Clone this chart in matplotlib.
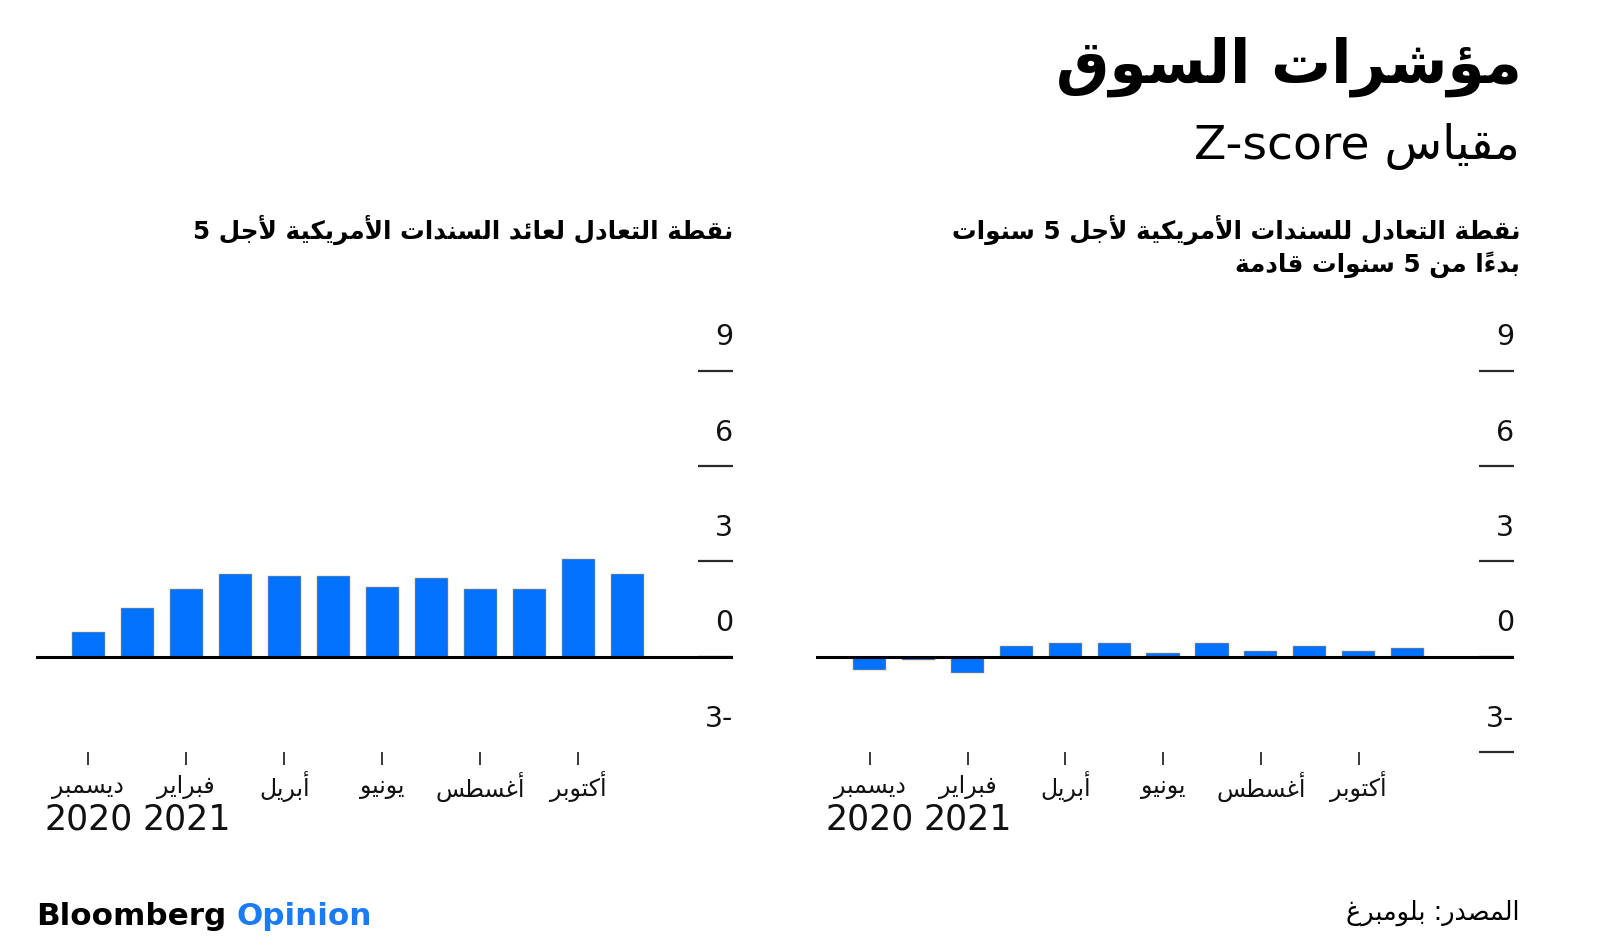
import numpy as np
import matplotlib
matplotlib.use("Agg")
import matplotlib.pyplot as plt

# ---------------- data ----------------
months = ["ديسمبر", "يناير", "فبراير", "مارس", "أبريل", "مايو",
          "يونيو", "يوليو", "أغسطس", "سبتمبر", "أكتوبر", "نوفمبر"]
years = ["2020", "2021"]
left_values = [0.79, 1.52, 2.12, 2.60, 2.54, 2.54, 2.20, 2.46, 2.12, 2.12, 3.06, 2.59]
right_values = [-0.42, -0.10, -0.52, 0.33, 0.42, 0.42, 0.12, 0.42, 0.18, 0.33, 0.18, 0.26]
ytick_values = [-3, 0, 3, 6, 9]
ytick_labels = ["3-", "0", "3", "6", "9"]

title = "مؤشرات السوق"
subtitle = "مقياس Z-score"
right_title = ["نقطة التعادل للسندات الأمريكية لأجل 5 سنوات", "بدءاً من 5 سنوات قادمة"]
left_title = ["نقطة التعادل لعائد السندات الأمريكية لأجل 5"]
source = "المصدر: بلومبرغ"

BLUE = "#0072ff"
EDGE = "#f0a03c"
DARK = "#2a2a2a"

# ---------------- Arabic shaping (presentation forms + simple bidi) ----------------
DUAL = {'ئ': 0xFE89, 'ب': 0xFE8F, 'ت': 0xFE95, 'ث': 0xFE99, 'ج': 0xFE9D, 'ح': 0xFEA1,
        'خ': 0xFEA5, 'س': 0xFEB1, 'ش': 0xFEB5, 'ص': 0xFEB9, 'ض': 0xFEBD, 'ط': 0xFEC1,
        'ظ': 0xFEC5, 'ع': 0xFEC9, 'غ': 0xFECD, 'ف': 0xFED1, 'ق': 0xFED5, 'ك': 0xFED9,
        'ل': 0xFEDD, 'م': 0xFEE1, 'ن': 0xFEE5, 'ه': 0xFEE9, 'ي': 0xFEF1}
RIGHT = {'آ': 0xFE81, 'أ': 0xFE83, 'ؤ': 0xFE85, 'إ': 0xFE87, 'ا': 0xFE8D, 'ة': 0xFE93,
         'د': 0xFEA9, 'ذ': 0xFEAB, 'ر': 0xFEAD, 'ز': 0xFEAF, 'و': 0xFEED, 'ى': 0xFEEF}
NONJOIN = {'ء': 0xFE80}
LAMALEF = {'آ': 0xFEF5, 'أ': 0xFEF7, 'إ': 0xFEF9, 'ا': 0xFEFB}


def is_mark(c):
    return '\u064B' <= c <= '\u065F' or c == '\u0670'


def shape(text):
    clusters = []
    for c in text:
        if is_mark(c) and clusters:
            clusters[-1][1].append(c)
        else:
            clusters.append([c, []])
    merged = []
    i = 0
    while i < len(clusters):
        c, m = clusters[i]
        if c == 'ل' and i + 1 < len(clusters) and clusters[i + 1][0] in LAMALEF and not m:
            merged.append(['LA' + clusters[i + 1][0], clusters[i + 1][1]])
            i += 2
        else:
            merged.append([c, m])
            i += 1

    def joins_next(c):
        return c in DUAL

    def joins_prev(c):
        return c in DUAL or c in RIGHT or c.startswith('LA')

    out = []
    for i, (c, m) in enumerate(merged):
        prev = merged[i - 1][0] if i > 0 else None
        nxt = merged[i + 1][0] if i + 1 < len(merged) else None
        jp = prev is not None and joins_next(prev) and joins_prev(c)
        jn = nxt is not None and joins_next(c) and joins_prev(nxt)
        if c.startswith('LA'):
            g = chr(LAMALEF[c[2]] + (1 if (prev is not None and joins_next(prev)) else 0))
        elif c in DUAL:
            g = chr(DUAL[c] + (3 if (jp and jn) else 2 if jn else 1 if jp else 0))
        elif c in RIGHT:
            g = chr(RIGHT[c] + (1 if jp else 0))
        elif c in NONJOIN:
            g = chr(NONJOIN[c])
        else:
            g = c
        out.append(g + ''.join(m))
    return out


def is_ltr(s):
    return s[0].isascii() and s[0].isalnum()


def ar(text):
    rev = shape(text)[::-1]
    out = []
    i = 0
    while i < len(rev):
        if is_ltr(rev[i]):
            j = i
            while j < len(rev) and (is_ltr(rev[j]) or (rev[j] in '-.,' and j + 1 < len(rev) and is_ltr(rev[j + 1]))):
                j += 1
            out.extend(rev[i:j][::-1])
            i = j
        else:
            out.append(rev[i])
            i += 1
    return ''.join(out)


# ---------------- figure ----------------
plt.rcParams['font.family'] = ['DejaVu Sans']
W, H = 1600, 949
fig = plt.figure(figsize=(W / 100, H / 100), dpi=100)

Y0_PX = 656.7       # pixel row of zero
PX_PER_UNIT = 31.8
YLIM = (-3.0, 10.5)
y_bot = Y0_PX - YLIM[0] * PX_PER_UNIT
y_top = Y0_PX - YLIM[1] * PX_PER_UNIT


def axes_px(x0, x1):
    return fig.add_axes([x0 / W, 1 - y_bot / H, (x1 - x0) / W, (y_bot - y_top) / H])


def draw(ax, vals, xlim, yticks):
    x = np.arange(len(vals))
    ax.bar(x, vals, width=0.68, color=BLUE, edgecolor=EDGE, linewidth=0.35, zorder=2)
    ax.axhline(0, color='black', lw=2.2, zorder=3)
    ax.set_xlim(*xlim)
    ax.set_ylim(*YLIM)
    for s in ax.spines.values():
        s.set_visible(False)
    ax.patch.set_alpha(0)
    ax.yaxis.tick_right()
    ax.set_yticks(yticks)
    ax.tick_params(axis='y', direction='in', length=25, width=1.6, color=DARK,
                   labelright=False, labelleft=False, right=True, left=False)
    ax.set_xticks(x[::2])
    ax.tick_params(axis='x', direction='out', length=9.5, width=1.3, color=DARK,
                   labelbottom=False)
    ytr = ax.get_yaxis_transform()
    for v, lab in zip(ytick_values, ytick_labels):
        ax.text(1.0, v + 1.05, lab, transform=ytr, ha='right', va='center',
                fontsize=20.5, color='#111111')
    xtr = ax.get_xaxis_transform()
    ax_h = y_bot - y_top
    for i in x[::2]:
        ax.text(i, (y_bot - 787) / ax_h, ar(months[i]), transform=xtr, ha='center',
                va='center', fontsize=17, color='#111111')
    for k, yr in enumerate(years):
        ax.text(2 * k, (y_bot - 819) / ax_h, yr, transform=xtr, ha='center',
                va='center', fontsize=25, color='#111111')


axL = axes_px(36, 733)
draw(axL, left_values, (-1.07, 13.16), [0, 3, 6, 9])
axR = axes_px(816, 1514)
draw(axR, right_values, (-1.10, 13.18), [-3, 0, 3, 6, 9])

# titles
fig.text(1522 / W, 1 - 67 / H, ar(title), ha='right', va='center', fontsize=43,
         fontweight='bold', color='black')
fig.text(1520 / W, 1 - 146 / H, ar(subtitle), ha='right', va='center', fontsize=34,
         color='black')
for k, line in enumerate(right_title):
    fig.text(1520 / W, 1 - (230 + 35 * k) / H, ar(line), ha='right', va='center',
             fontsize=17.7, fontweight='bold', color='black')
for k, line in enumerate(left_title):
    fig.text(733 / W, 1 - (230 + 35 * k) / H, ar(line), ha='right', va='center',
             fontsize=17.7, fontweight='bold', color='black')

# footer
fig.text(36 / W, 1 - 925 / H, "Bloomberg", ha='left', va='baseline', fontsize=22.3,
         fontweight='bold', color='black')
fig.text(237 / W, 1 - 925 / H, "Opinion", ha='left', va='baseline', fontsize=22.3,
         fontweight='bold', color='#1a7cf5')
fig.text(1520 / W, 1 - 913 / H, ar(source), ha='right', va='center', fontsize=18.4,
         color='black')

fig.savefig("out.png", dpi=100, facecolor='white')
